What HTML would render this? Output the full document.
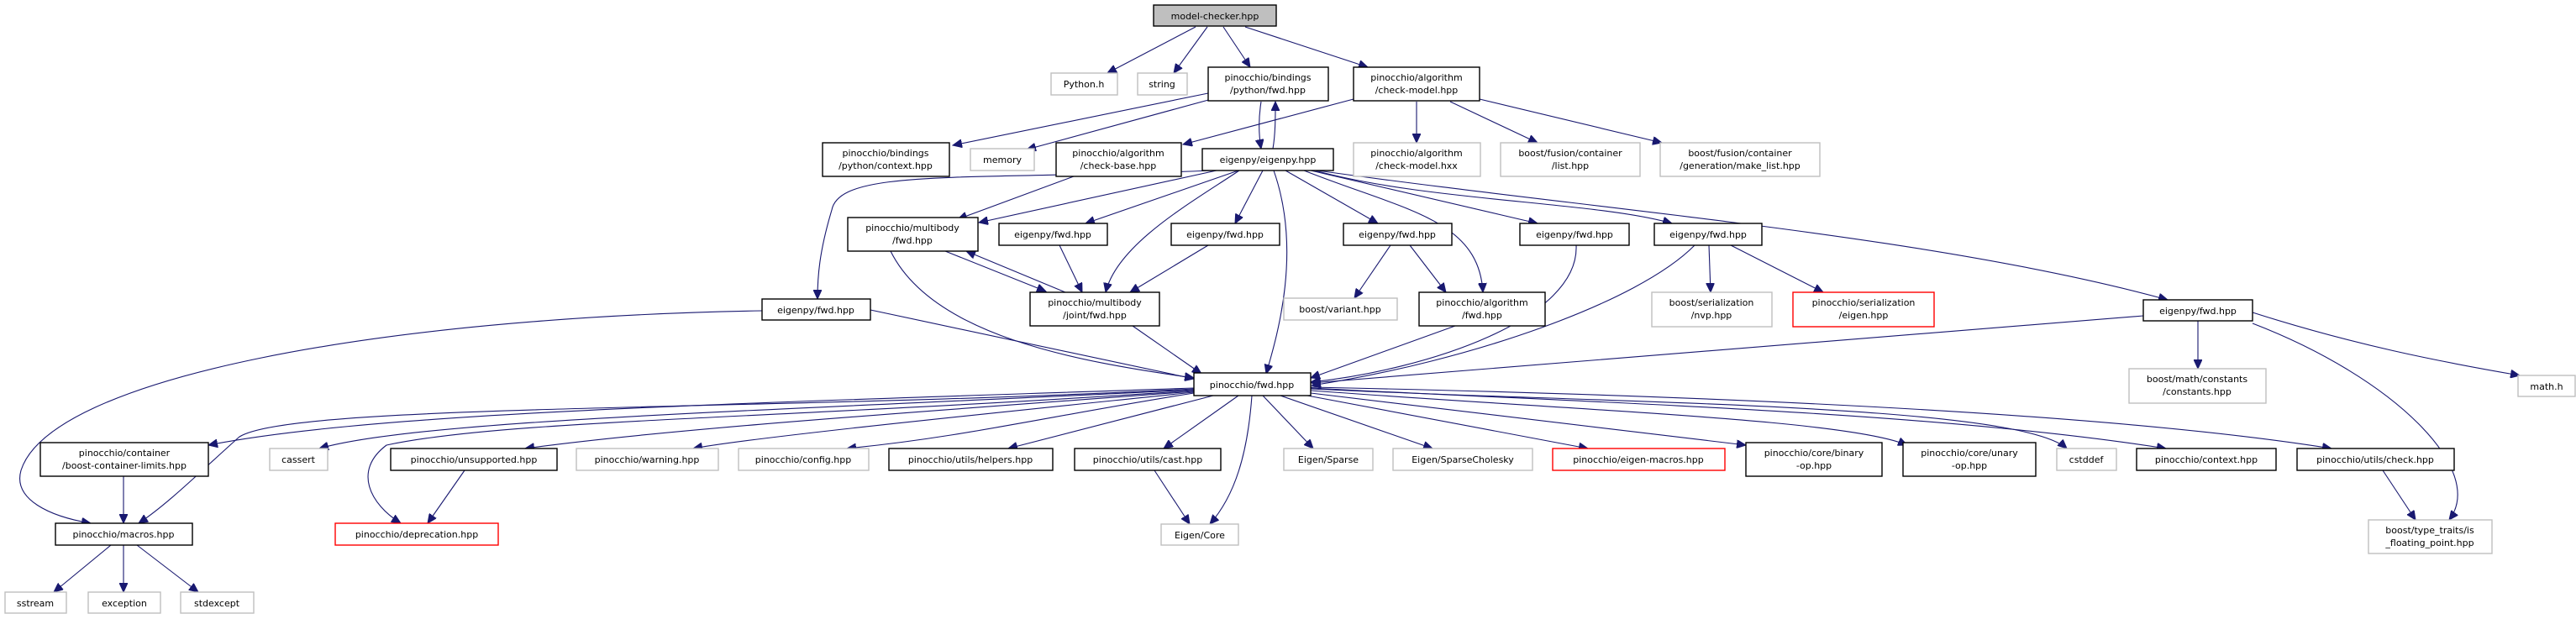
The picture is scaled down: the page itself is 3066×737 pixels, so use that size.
<!DOCTYPE html>
<html><head><meta charset="utf-8"><style>
html,body{margin:0;padding:0;background:#fff;}
svg{display:block;}
text{font-family:"DejaVu Sans","Liberation Sans",sans-serif;font-size:11px;fill:#000;text-anchor:middle;}
.b{fill:#fff;stroke:#000;stroke-width:1.4;}
.g{fill:#fff;stroke:#bfbfbf;stroke-width:1.4;}
.r{fill:#fff;stroke:#ff0000;stroke-width:1.4;}
.e{fill:none;stroke:#191970;stroke-width:1.1;marker-end:url(#a);}
</style></head><body>
<svg width="3066" height="737" viewBox="0 0 3066 737" xmlns="http://www.w3.org/2000/svg">
<defs><marker id="a" markerUnits="userSpaceOnUse" markerWidth="12" markerHeight="10" refX="11" refY="5" orient="auto"><path d="M0,0 L11,5 L0,10 z" fill="#191970" stroke="#191970"/></marker></defs>

<!-- edges -->
<path class="e" d="M1423,32 L1318,87"/>
<path class="e" d="M1437,32 L1397,87"/>
<path class="e" d="M1456,32 L1488,80"/>
<path class="e" d="M1482,32 L1628,80"/>
<path class="e" d="M1438,111 L1134,173"/>
<path class="e" d="M1442,118 L1222,178"/>
<path class="e" d="M1501,121 C1498,140 1498,160 1501,177"/>
<path class="e" d="M1515,177 C1518,160 1518,140 1518,121"/>
<path class="e" d="M1611,118 L1408,172"/>
<path class="e" d="M1686,121 L1686,170"/>
<path class="e" d="M1726,121 L1830,170"/>
<path class="e" d="M1761,118 L1978,170"/>
<path class="e" d="M1278,210 L1140,261"/>
<path class="e" d="M1443,203 C1150,215 1000,200 990,250 C975,300 973,330 973,356"/>
<path class="e" d="M1448,203 L1165,265"/>
<path class="e" d="M1474,203 L1292,266"/>
<path class="e" d="M1503,203 L1470,266"/>
<path class="e" d="M1475,203 C1420,240 1330,290 1316,348"/>
<path class="e" d="M1516,203 C1550,300 1520,400 1507,445"/>
<path class="e" d="M1530,203 L1640,266"/>
<path class="e" d="M1552,203 C1670,250 1760,260 1765,348"/>
<path class="e" d="M1560,203 L1830,266"/>
<path class="e" d="M1565,203 C1700,240 1900,240 1990,266"/>
<path class="e" d="M1568,203 C1900,250 2300,280 2580,357"/>
<path class="e" d="M1125,299 L1245,347"/>
<path class="e" d="M1268,348 L1150,299"/>
<path class="e" d="M1060,299 C1110,400 1280,430 1421,450"/>
<path class="e" d="M1261,292 L1288,348"/>
<path class="e" d="M1438,292 L1345,348"/>
<path class="e" d="M1655,292 L1612,355"/>
<path class="e" d="M1678,292 L1721,348"/>
<path class="e" d="M1348,388 L1430,445"/>
<path class="e" d="M1732,388 L1560,450"/>
<path class="e" d="M1876,292 C1880,380 1700,440 1560,455"/>
<path class="e" d="M2017,292 C1950,360 1750,430 1561,459"/>
<path class="e" d="M2034,292 L2036,348"/>
<path class="e" d="M2060,292 L2170,348"/>
<path class="e" d="M1036,369 L1421,451"/>
<path class="e" d="M907,370 C450,378 60,450 25,560 C15,595 60,615 108,623"/>
<path class="e" d="M2551,376 L1561,456"/>
<path class="e" d="M2616,382 L2616,439"/>
<path class="e" d="M2681,372 C2800,410 2900,430 2999,447"/>
<path class="e" d="M2681,385 C2850,450 2960,560 2915,619"/>
<!-- pinocchio/fwd out -->
<path class="e" d="M1421,462 C900,480 450,490 248,530"/>
<path class="e" d="M1421,463 C900,490 350,480 285,520 C240,560 200,600 165,623"/>
<path class="e" d="M1421,464 C900,490 500,500 380,534"/>
<path class="e" d="M1421,465 C900,500 600,500 460,530 C420,560 440,600 477,623"/>
<path class="e" d="M1421,466 C1100,490 800,510 625,534"/>
<path class="e" d="M1421,467 C1200,490 900,520 825,534"/>
<path class="e" d="M1421,468 C1250,495 1150,520 1008,534"/>
<path class="e" d="M1444,471 L1200,534"/>
<path class="e" d="M1474,471 L1385,534"/>
<path class="e" d="M1490,471 C1485,540 1470,590 1440,624"/>
<path class="e" d="M1503,471 L1563,534"/>
<path class="e" d="M1524,471 L1705,534"/>
<path class="e" d="M1556,471 L1890,534"/>
<path class="e" d="M1560,468 L2078,530"/>
<path class="e" d="M1560,465 C1900,490 2200,500 2270,530"/>
<path class="e" d="M1560,463 C1900,480 2400,480 2460,534"/>
<path class="e" d="M1560,462 C1900,480 2300,490 2578,534"/>
<path class="e" d="M1560,461 C2000,470 2500,490 2775,534"/>
<!-- lower -->
<path class="e" d="M147,567 L147,623"/>
<path class="e" d="M553,560 L509,623"/>
<path class="e" d="M1374,560 L1416,624"/>
<path class="e" d="M2836,560 L2875,619"/>
<path class="e" d="M132,649 L64,705"/>
<path class="e" d="M147,649 L147,705"/>
<path class="e" d="M163,649 L236,705"/>

<!-- nodes -->
<rect x="1373" y="6" width="146" height="25" fill="#bfbfbf" stroke="#000" stroke-width="1.4"/><text x="1446" y="23">model-checker.hpp</text>
<rect class="g" x="1251" y="87" width="79" height="26"/><text x="1290" y="104">Python.h</text>
<rect class="g" x="1354" y="87" width="59" height="26"/><text x="1383" y="104">string</text>
<rect class="b" x="1438" y="80" width="143" height="40"/><text x="1509" y="96">pinocchio/bindings</text><text x="1509" y="111">/python/fwd.hpp</text>
<rect class="b" x="1611" y="80" width="150" height="40"/><text x="1686" y="96">pinocchio/algorithm</text><text x="1686" y="111">/check-model.hpp</text>

<rect class="b" x="979" y="170" width="151" height="40"/><text x="1054" y="186">pinocchio/bindings</text><text x="1054" y="201">/python/context.hpp</text>
<rect class="g" x="1155" y="177" width="76" height="26"/><text x="1193" y="194">memory</text>
<rect class="b" x="1257" y="170" width="149" height="40"/><text x="1331" y="186">pinocchio/algorithm</text><text x="1331" y="201">/check-base.hpp</text>
<rect class="b" x="1431" y="177" width="156" height="26"/><text x="1509" y="194">eigenpy/eigenpy.hpp</text>
<rect class="g" x="1611" y="170" width="151" height="40"/><text x="1686" y="186">pinocchio/algorithm</text><text x="1686" y="201">/check-model.hxx</text>
<rect class="g" x="1786" y="170" width="166" height="40"/><text x="1869" y="186">boost/fusion/container</text><text x="1869" y="201">/list.hpp</text>
<rect class="g" x="1976" y="170" width="190" height="40"/><text x="2071" y="186">boost/fusion/container</text><text x="2071" y="201">/generation/make_list.hpp</text>

<rect class="b" x="1009" y="259" width="155" height="40"/><text x="1086" y="275">pinocchio/multibody</text><text x="1086" y="290">/fwd.hpp</text>
<rect class="b" x="1189" y="266" width="129" height="26"/><text x="1253" y="283">eigenpy/fwd.hpp</text>
<rect class="b" x="1394" y="266" width="129" height="26"/><text x="1458" y="283">eigenpy/fwd.hpp</text>
<rect class="b" x="1599" y="266" width="129" height="26"/><text x="1663" y="283">eigenpy/fwd.hpp</text>
<rect class="b" x="1809" y="266" width="130" height="26"/><text x="1874" y="283">eigenpy/fwd.hpp</text>
<rect class="b" x="1969" y="266" width="128" height="26"/><text x="2033" y="283">eigenpy/fwd.hpp</text>

<rect class="b" x="907" y="356" width="129" height="25"/><text x="971" y="373">eigenpy/fwd.hpp</text>
<rect class="b" x="1226" y="348" width="154" height="40"/><text x="1303" y="364">pinocchio/multibody</text><text x="1303" y="379">/joint/fwd.hpp</text>
<rect class="g" x="1528" y="355" width="135" height="26"/><text x="1595" y="372">boost/variant.hpp</text>
<rect class="b" x="1689" y="348" width="150" height="40"/><text x="1764" y="364">pinocchio/algorithm</text><text x="1764" y="379">/fwd.hpp</text>
<rect class="g" x="1966" y="348" width="143" height="41"/><text x="2037" y="364">boost/serialization</text><text x="2037" y="379">/nvp.hpp</text>
<rect class="r" x="2134" y="348" width="168" height="41"/><text x="2218" y="364">pinocchio/serialization</text><text x="2218" y="379">/eigen.hpp</text>
<rect class="b" x="2551" y="357" width="130" height="25"/><text x="2616" y="374">eigenpy/fwd.hpp</text>

<rect class="b" x="1421" y="444" width="139" height="27"/><text x="1490" y="462">pinocchio/fwd.hpp</text>
<rect class="g" x="2534" y="439" width="163" height="41"/><text x="2615" y="455">boost/math/constants</text><text x="2615" y="470">/constants.hpp</text>
<rect class="g" x="2997" y="447" width="68" height="25"/><text x="3031" y="464">math.h</text>

<rect class="b" x="48" y="527" width="200" height="40"/><text x="148" y="543">pinocchio/container</text><text x="148" y="558">/boost-container-limits.hpp</text>
<rect class="g" x="321" y="534" width="69" height="26"/><text x="355" y="551">cassert</text>
<rect class="b" x="465" y="534" width="198" height="26"/><text x="564" y="551">pinocchio/unsupported.hpp</text>
<rect class="g" x="686" y="534" width="169" height="26"/><text x="770" y="551">pinocchio/warning.hpp</text>
<rect class="g" x="879" y="534" width="155" height="26"/><text x="956" y="551">pinocchio/config.hpp</text>
<rect class="b" x="1058" y="534" width="195" height="26"/><text x="1155" y="551">pinocchio/utils/helpers.hpp</text>
<rect class="b" x="1279" y="534" width="174" height="26"/><text x="1366" y="551">pinocchio/utils/cast.hpp</text>
<rect class="g" x="1528" y="534" width="106" height="26"/><text x="1581" y="551">Eigen/Sparse</text>
<rect class="g" x="1658" y="534" width="166" height="26"/><text x="1741" y="551">Eigen/SparseCholesky</text>
<rect class="r" x="1848" y="534" width="205" height="26"/><text x="1950" y="551">pinocchio/eigen-macros.hpp</text>
<rect class="b" x="2078" y="527" width="162" height="40"/><text x="2159" y="543">pinocchio/core/binary</text><text x="2159" y="558">-op.hpp</text>
<rect class="b" x="2265" y="527" width="158" height="40"/><text x="2344" y="543">pinocchio/core/unary</text><text x="2344" y="558">-op.hpp</text>
<rect class="g" x="2448" y="534" width="71" height="26"/><text x="2483" y="551">cstddef</text>
<rect class="b" x="2543" y="534" width="166" height="26"/><text x="2626" y="551">pinocchio/context.hpp</text>
<rect class="b" x="2734" y="534" width="187" height="26"/><text x="2827" y="551">pinocchio/utils/check.hpp</text>

<rect class="b" x="66" y="623" width="163" height="26"/><text x="147" y="640">pinocchio/macros.hpp</text>
<rect class="r" x="399" y="623" width="194" height="26"/><text x="496" y="640">pinocchio/deprecation.hpp</text>
<rect class="g" x="1382" y="624" width="92" height="25"/><text x="1428" y="641">Eigen/Core</text>
<rect class="g" x="2819" y="619" width="147" height="40"/><text x="2892" y="635">boost/type_traits/is</text><text x="2892" y="650">_floating_point.hpp</text>

<rect class="g" x="6" y="705" width="73" height="25"/><text x="42" y="722">sstream</text>
<rect class="g" x="105" y="705" width="86" height="25"/><text x="148" y="722">exception</text>
<rect class="g" x="215" y="705" width="87" height="25"/><text x="258" y="722">stdexcept</text>
</svg>
</body></html>
